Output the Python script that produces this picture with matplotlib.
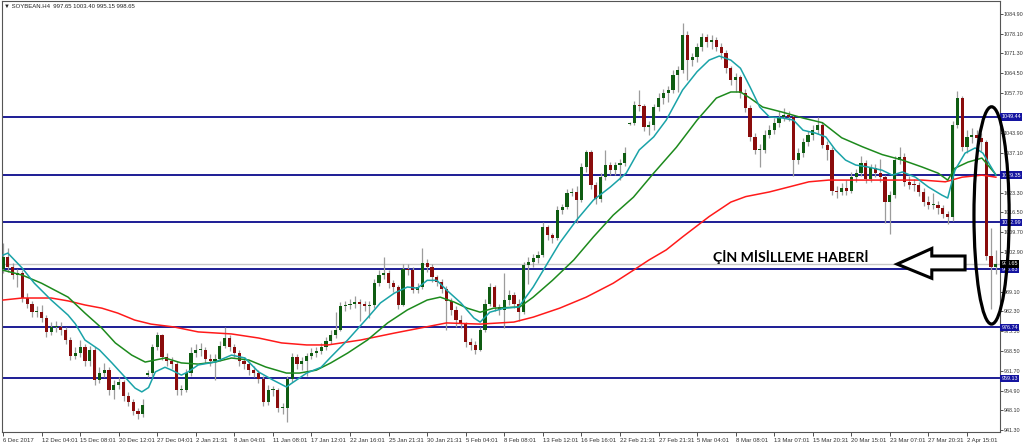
import numpy as np
import matplotlib
matplotlib.use('Agg')
import matplotlib.pyplot as plt
from matplotlib.patches import Ellipse, Polygon

# SOYBEAN H4 candles (one entry per bar)
opens = [997, 1001, 997.5, 995, 995.5, 987, 985, 982, 982, 980,
         975, 977, 977, 976, 972.5, 967, 968, 970, 965, 969,
         958.5, 961, 962, 955, 957, 958, 953, 951, 948, 947,
         960.5, 961, 970, 974, 966.5, 965, 964, 955, 955, 961,
         968, 969, 969, 966, 965, 966, 970.5, 973, 970, 968,
         965, 964, 962, 961, 959, 951, 955, 955, 949, 949,
         959, 966.5, 964, 965, 967, 968, 968.5, 970, 972, 974,
         976, 984, 984.5, 985, 985.5, 985, 984, 984.5, 992, 995,
         995.5, 992, 990.7, 984.5, 997, 996.5, 989.7, 990.7, 999, 997.6,
         994, 992.4, 990, 986, 982.8, 979.3, 978, 971.7, 970.7, 969,
         975.8, 985, 990.7, 983.8, 982.8, 986.2, 988, 985, 982, 998.3,
         999.3, 1000.7, 1001.7, 1011.4, 1008.6, 1007.6, 1017.2, 1018.3, 1023, 1023.5,
         1020.7, 1032, 1037.2, 1026, 1021, 1028.6, 1032.8, 1031, 1032.8, 1033.5,
         1047, 1047.3, 1053.5, 1053, 1045.9, 1046.6, 1052.8, 1056, 1057.6, 1058.7,
         1064, 1065.5, 1077.6, 1069, 1070, 1073.5, 1077, 1075.2, 1075.9, 1073.5,
         1071.4, 1066.2, 1062.1, 1063, 1057.6, 1052.4, 1042.5, 1038, 1038, 1043.2,
         1045, 1047.4, 1049.4, 1050, 1049.4, 1034.5, 1036.9, 1040.7, 1043, 1045,
         1046.6, 1039.7, 1038, 1024, 1023.5, 1024.8, 1024, 1028.6, 1030, 1033.4,
         1028, 1031.7, 1030, 1028.6, 1020, 1022.4, 1034.5, 1035.5, 1027, 1026,
         1025.8, 1023.5, 1020, 1019, 1019, 1017.9, 1016, 1014.8, 1046.6, 1056,
         1039, 1042.5, 1043, 1042, 1040.7, 1001.5, 997.65]
highs = [1005.9, 1004, 999, 997, 996.5, 988.5, 986, 984, 984.5, 981,
         978.5, 979, 978.5, 977, 973.5, 970, 972.5, 971, 970.5, 970,
         963, 964.5, 963, 958.5, 959.5, 958.5, 954.5, 952, 949, 952,
         962, 971, 975, 974.5, 968, 966.5, 965, 957, 962.5, 970,
         971, 971.5, 970, 967.5, 967.5, 972, 976.9, 974, 971, 969,
         966.5, 965, 963.5, 962, 960, 957, 956.5, 956, 950.5, 960,
         968, 967.5, 966.5, 968, 969.5, 970, 971.5, 973.5, 976, 982,
         985.5, 986, 986.5, 987.5, 986.5, 986, 986, 993.5, 996.5, 1001,
         996.5, 993, 991.5, 998.5, 998.5, 997.5, 992, 1004, 1000.5, 998.5,
         995, 993.5, 991, 987, 984, 981, 978.5, 973, 972, 977,
         986.5, 992, 991.5, 985, 995.5, 989.5, 989, 986.5, 999.5, 1001,
         1002, 1003, 1013, 1012, 1009.5, 1018.5, 1019.5, 1024.5, 1025, 1025.5,
         1033.5, 1038, 1038, 1027, 1030, 1038, 1034, 1034, 1035, 1039,
         1047.8, 1055, 1058.7, 1054, 1048, 1054, 1057.5, 1059, 1060, 1065.5,
         1067, 1081.8, 1079, 1071.5, 1075, 1078.5, 1078, 1077.5, 1077, 1075,
         1072.5, 1067, 1064.5, 1064, 1059, 1053.5, 1044, 1040, 1045, 1046.5,
         1049, 1051.5, 1052.5, 1051.5, 1050, 1038.5, 1042, 1044.5, 1046.5, 1049.5,
         1047.5, 1041, 1039, 1025.5, 1026.5, 1027.5, 1030.5, 1031.5, 1036, 1034.5,
         1033, 1033, 1035, 1029.5, 1024, 1036, 1039, 1037, 1029, 1028,
         1027, 1025, 1022, 1023, 1020.5, 1019, 1017, 1048, 1058.4, 1056.5,
         1045, 1045.5, 1045, 1044, 1041.5, 1011, 1003.4]
lows = [995.5, 996, 993.5, 990.7, 985.5, 983.5, 980.5, 980.5, 978.5, 973.5,
        974, 975, 974, 971, 965.5, 966, 966.5, 963.5, 963.5, 957,
        957.5, 959.5, 953.5, 952, 955.5, 951.5, 949.5, 946.5, 945.2, 946,
        959.5, 960, 969, 965.5, 963.5, 962.5, 953.5, 953.5, 954.5, 960,
        966.5, 967, 964.5, 963.5, 958.6, 965, 969.5, 968.5, 966.5, 963.5,
        962.5, 960.5, 959.5, 957.5, 949.5, 950, 953, 947.5, 947, 944,
        958, 962.5, 962, 960, 966, 966.5, 967.5, 969, 971, 973,
        975.5, 982.5, 983, 983.5, 979, 982.5, 980, 983.5, 991, 993.5,
        990.5, 989, 983, 984, 995, 988.5, 988.5, 990, 996, 992.5,
        991, 988.5, 975.7, 981, 976.9, 976.5, 970, 969, 967.5, 968.5,
        975, 984, 982.5, 981, 976.5, 984.5, 983.5, 979, 981.5, 991.9,
        997.5, 999, 1001, 1007, 1006, 1007, 1016, 1017.5, 1022, 1012.8,
        1020, 1030.5, 1024.5, 1019.5, 1020, 1027.5, 1029.5, 1029.5, 1027.6, 1032.5,
        1046.6, 1046.5, 1051.5, 1044.5, 1043, 1045, 1051.5, 1054, 1054.5, 1057.5,
        1058, 1064.5, 1062, 1067, 1068.5, 1072, 1073.5, 1073, 1072, 1069.5,
        1064.5, 1060.5, 1058, 1056, 1051, 1041, 1036.5, 1032, 1037, 1042,
        1043.5, 1046, 1048, 1048, 1029, 1033, 1035.5, 1039.5, 1041.5, 1043.5,
        1038.5, 1034.5, 1022.5, 1021.5, 1022.5, 1022.5, 1023, 1027, 1029, 1026.5,
        1027, 1028.5, 1027, 1012.8, 1009, 1021.5, 1033, 1025.5, 1024.5, 1024,
        1022, 1018.5, 1017.5, 1017.5, 1016, 1014.5, 1012.5, 1013.5, 1045.5, 1037.5,
        1037, 1040.5, 1039.5, 1037.5, 1000, 983, 995.15]
closes = [1001, 997.5, 995, 995.5, 987, 985, 982, 982, 980, 975,
          977, 977, 976, 972.5, 967, 968, 970, 965, 969, 958.5,
          961, 962, 955, 957, 958, 953, 951, 948, 947, 950,
          961, 970, 974, 966.5, 965, 964, 955, 955, 961, 968,
          969, 969, 966, 965, 966, 970.5, 973, 970, 968, 965,
          964, 962, 961, 959, 951, 955, 955, 949, 949, 959,
          966.5, 964, 965, 967, 968, 968.5, 970, 972, 974, 976,
          984, 984.5, 985, 985.5, 985, 984, 984.5, 992, 995, 995.5,
          992, 990.7, 984.5, 997, 996.5, 989.7, 990.7, 999, 997.6, 994,
          992.4, 990, 986, 982.8, 979.3, 978, 971.7, 970.7, 969, 975.8,
          985, 990.7, 983.8, 982.8, 986.2, 988, 985, 982, 998.3, 999.3,
          1000.7, 1001.7, 1011.4, 1008.6, 1007.6, 1017.2, 1018.3, 1023, 1023.5, 1020.7,
          1032, 1037.2, 1026, 1021, 1028.6, 1032.8, 1031, 1032.8, 1033.5, 1036.9,
          1047.3, 1053.5, 1053, 1045.9, 1046.6, 1052.8, 1056, 1057.6, 1058.7, 1064,
          1065.5, 1077.6, 1069, 1070, 1073.5, 1077, 1075.2, 1075.9, 1073.5, 1071.4,
          1066.2, 1062.1, 1063, 1057.6, 1052.4, 1042.5, 1038, 1038, 1043.2, 1045,
          1047.4, 1049.4, 1050, 1049.4, 1034.5, 1036.9, 1040.7, 1043, 1045, 1046.6,
          1039.7, 1038, 1024, 1023.5, 1024.8, 1024, 1028.6, 1030, 1033.4, 1028,
          1031.7, 1030, 1028.6, 1020, 1022.4, 1034.5, 1035.5, 1027, 1026, 1025.8,
          1023.5, 1020, 1019, 1019, 1017.9, 1016, 1014.8, 1046.6, 1056, 1039,
          1042.5, 1043, 1042, 1040.7, 1001.5, 997.65, 998.65]

# moving averages, sampled along the curves (bar position, price)
fast_x = [0, 1, 4, 6.5, 10, 13.5, 15, 17, 20, 22.6, 25.3, 27.4, 28.8, 30.2, 31.6, 33.6, 35, 37,
          38.4, 40.5, 44, 47.4, 50.2, 53, 56, 58.8, 60, 63, 66, 68, 71.5, 75.6, 78.3, 81.2,
          83.9, 86, 88, 90, 92, 95, 97.7, 99, 101, 104, 107, 110, 113, 115.5, 119, 122.5,
          126, 129.3, 132, 135, 137.6, 141, 144, 146.5, 148.6, 151, 153, 155, 157, 159,
          161.8, 164, 166, 168.6, 170.7, 172.7, 174.8, 176.9, 179.5, 182.4, 184.5, 186.6,
          189.3, 192, 194.8, 196, 197.5, 199.6, 201.7, 203.3, 206]
fast_ma = [1001.7, 1002.4, 997.2, 992, 986.2, 981, 978, 972.4, 969, 964.5, 959.6, 955.8, 954.5,
           956, 961.4, 963, 962, 960.3, 961.4, 963.8, 964.8, 967.2, 966.2, 961.4, 958.6, 956.2,
           957.6, 961, 963, 966.5, 972.4, 980, 985.2, 988.6, 990.7, 990.3, 993, 993, 989.7,
           985.2, 980, 978.6, 982, 983.4, 983.8, 990.7, 999, 1005.9, 1013.8, 1020.7, 1025.2,
           1030, 1038, 1042.5, 1048.3, 1058.7, 1065, 1069, 1070.4, 1069, 1066.2, 1059.7,
           1052.8, 1049.4, 1049, 1048.3, 1044.8, 1043.8, 1042.5, 1038, 1034.5, 1032.8, 1032.1,
           1031, 1029.3, 1030.4, 1028.6, 1025.2, 1022.4, 1021.4, 1031, 1036.9, 1038.7, 1036.9,
           1029.3]
mid_x = [0, 4, 8, 13.5, 17, 20.5, 23.3, 26.7, 29.5, 31.6, 33.6, 37, 40.5, 44, 47.4, 51, 54.5,
         58.8, 61.5, 65, 68, 71.5, 75.6, 79.8, 83.9, 88, 90.7, 93.6, 96.3, 99, 101.8, 107.2,
         110, 114, 118.4, 122.5, 126.6, 130.8, 135, 139.7, 144, 148, 151, 153, 155, 157.6,
         161.8, 166, 170, 174, 178.3, 182.4, 186.6, 190.7, 194, 196, 197.5, 200.2, 203.1, 206]
mid_ma = [996.5, 994.8, 992, 987.2, 981.7, 976.5, 971.4, 967.2, 964.8, 965.5, 966.2, 964.5,
          964.1, 964.8, 966.2, 965.5, 963.1, 961, 961, 962, 964.5, 967.9, 972.4, 978.3, 982.8,
          986.2, 987.2, 985.5, 983.4, 982, 983.4, 983.8, 987.2, 993, 1000, 1008, 1015.5,
          1021.7, 1030, 1038.9, 1048.3, 1055.9, 1058, 1058, 1055.9, 1052.8, 1051, 1049, 1047.4,
          1042.2, 1039.1, 1036.4, 1034.5, 1032.1, 1030, 1027.6, 1031.7, 1033.8, 1035.2, 1029.5]
slow_x = [0, 4, 10, 13.5, 17, 20.5, 23.8, 27.3, 30.7, 35.5, 40.5, 47.4, 53, 57.8, 63, 67.4,
          74.2, 81.2, 88, 92, 99, 106, 110, 115.5, 121, 126.6, 130.8, 134, 137.6, 141, 146.5,
          151, 154.1, 159, 163, 167.2, 171.3, 183.7, 190.7, 195.5, 199, 203.1, 206]
slow_ma = [986.2, 986.9, 986.9, 985.9, 984.5, 983.4, 981.7, 979.3, 977.9, 976.9, 975.2, 974.5,
           973.1, 971.4, 970.7, 970.7, 972.4, 974.8, 977, 978.3, 977.9, 978.6, 980.3, 983.4,
           987.2, 992, 996.5, 1000, 1003.5, 1008, 1015, 1020, 1021.9, 1023.5, 1025.2, 1027,
           1027.6, 1027.6, 1027.6, 1027, 1028.6, 1029.3, 1028.6]

levels = [1049.44, 1029.35, 1012.99, 996.83, 976.74, 959.13]
last_price = 998.65
price_ticks = [941.30, 948.10, 954.90, 961.70, 968.50, 975.50, 982.30, 989.10, 1002.90,
               1009.70, 1016.50, 1023.30, 1037.10, 1043.90, 1057.70, 1064.50, 1071.30,
               1078.10, 1084.90]
date_labels = ['6 Dec 2017', '12 Dec 04:01', '15 Dec 08:01', '20 Dec 12:01', '27 Dec 04:01',
               '2 Jan 21:31', '8 Jan 04:01', '11 Jan 08:01', '17 Jan 12:01', '22 Jan 16:01',
               '25 Jan 21:31', '30 Jan 21:31', '5 Feb 04:01', '8 Feb 08:01', '13 Feb 12:01',
               '16 Feb 16:01', '22 Feb 21:31', '27 Feb 21:31', '5 Mar 04:01', '8 Mar 08:01',
               '13 Mar 07:01', '15 Mar 20:31', '20 Mar 15:01', '23 Mar 07:01', '27 Mar 20:31',
               '2 Apr 15:01']
bars_per_label = 8

small = ['Liberation Sans Narrow', 'Liberation Sans', 'DejaVu Sans']
price_size = 3.9
date_size = 4.3

o = np.array(opens); h = np.array(highs); l = np.array(lows); c = np.array(closes)
x = np.arange(len(c))

fig = plt.figure(figsize=(10.24, 4.45), dpi=100)
ax = fig.add_axes([2/1024, 13/445, 998/1024, 431/445])

for lv in levels:
    ax.axhline(lv, color='#0b0b8c', lw=1.3, zorder=1)
ax.axhline(last_price, color='#c8c8c8', lw=1.0, zorder=0.9)

# candles
ax.vlines(x, l, h, color='#9c9c9c', lw=0.9, zorder=2)
up = c >= o
body = np.maximum(np.abs(c - o), 0.35)
ax.bar(x[up], body[up], bottom=o[up], width=0.66, color='#0f5c12', lw=0, zorder=3)
ax.bar(x[~up], body[~up], bottom=c[~up], width=0.66, color='#8a0c0c', lw=0, zorder=3)

ax.plot(slow_x, slow_ma, color='#ff1a1a', lw=1.1, zorder=4)
ax.plot(mid_x, mid_ma, color='#1d8a1d', lw=1.1, zorder=4)
ax.plot(fast_x, fast_ma, color='#1aa3a8', lw=1.1, zorder=4)

ax.set_xlim(-0.21, 206.85)
ax.set_ylim(940.66, 1089.4)

ax.yaxis.tick_right()
ax.set_yticks(price_ticks)
ax.set_yticklabels(['%.2f' % v for v in price_ticks])
ax.set_xticks(np.arange(len(date_labels)) * bars_per_label)
ax.set_xticklabels(date_labels, ha='left')
ax.tick_params(axis='y', labelsize=price_size, colors='#333333', length=2, width=0.6, pad=0.8)
ax.tick_params(axis='x', labelsize=date_size, colors='#333333', length=3, width=0.6, pad=1.5)
for t in ax.get_xticklabels() + ax.get_yticklabels():
    t.set_family(small)
for s in ax.spines.values():
    s.set_color('#555555')
    s.set_linewidth(0.8)

ytr = ax.get_yaxis_transform()
for lv in levels:
    ax.text(1.0015, lv, '%.2f' % lv, transform=ytr, ha='left', va='center', fontsize=price_size,
            family=small, color='white', zorder=6, clip_on=False,
            bbox=dict(boxstyle='square,pad=0.25', fc='#1414a0', ec='none'))
ax.text(1.0015, last_price, '%.2f' % last_price, transform=ytr, ha='left', va='center',
        fontsize=price_size, family=small, color='white', zorder=7, clip_on=False,
        bbox=dict(boxstyle='square,pad=0.25', fc='black', ec='none'))

fig.text(4/1024, 1 - 6/445, '\u25bc SOYBEAN.H4  997.65 1003.40 995.15 998.65', fontsize=date_size,
         family=small, color='#222222', va='center', ha='left')

# annotation: arrow, text and ellipse around the last bars
arrow = Polygon([(185.5, 998.6), (192.7, 1004.0), (192.7, 1001.4), (199.6, 1001.4),
                 (199.6, 996.6), (192.7, 996.6), (192.7, 993.7)], closed=True,
                fc='white', ec='black', lw=2.2, zorder=8)
ax.add_patch(arrow)
ax.text(163.5, 1001.0, 'ÇİN MİSİLLEME HABERİ', fontsize=10.2, fontweight='bold',
        family=['Lato', 'DejaVu Sans'], ha='center', va='center', color='black', zorder=8)
ax.add_patch(Ellipse((205.1, 1015.4), 7.3, 75.0, fc='none', ec='black', lw=2.3,
                     zorder=9, clip_on=False))

fig.savefig('out.png', dpi=100, facecolor='white')
